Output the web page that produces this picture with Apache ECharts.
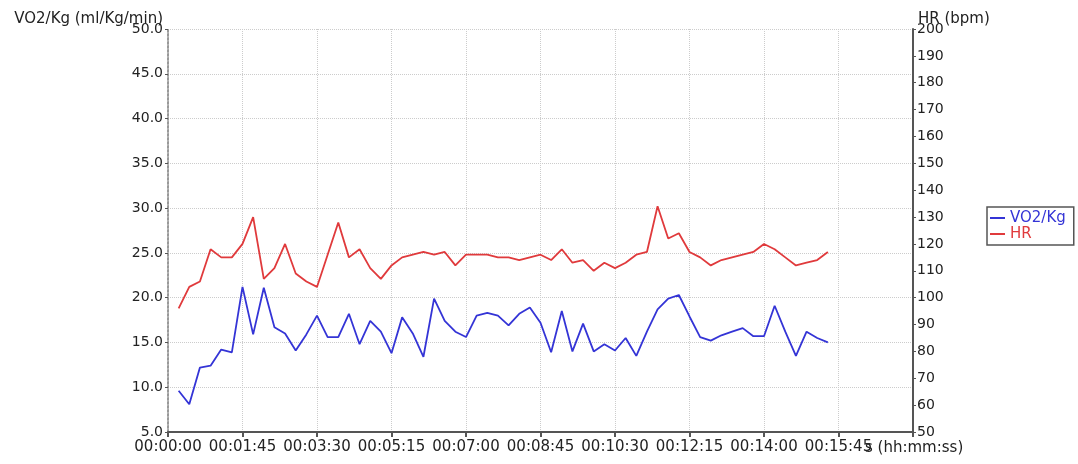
<!DOCTYPE html>
<html>
<head>
<meta charset="utf-8">
<script src="https://cdn.jsdelivr.net/npm/echarts@6/dist/echarts.min.js"></script>
<style>
  html, body { margin: 0; padding: 0; background: #fff; }
  #chart { width: 1078px; height: 464px; }
</style>
</head>
<body>
<div id="chart"></div>
<script>
// elapsed time of each sample, seconds
var times = [15, 30, 45, 60, 75, 90, 105, 120, 135, 150, 165, 180, 195, 210, 225, 240,
  255, 270, 285, 300, 315, 330, 345, 360, 375, 390, 405, 420, 435, 450, 465, 480,
  495, 510, 525, 540, 555, 570, 585, 600, 615, 630, 645, 660, 675, 690, 705, 720,
  735, 750, 765, 780, 795, 810, 825, 840, 855, 870, 885, 900, 915, 930];

// VO2/Kg (ml/Kg/min)
var vo2 = [9.6, 8.1, 12.2, 12.4, 14.2, 13.9, 21.2, 15.9, 21.1, 16.7, 16.0, 14.1, 15.9, 18.0, 15.6, 15.6,
  18.2, 14.8, 17.4, 16.2, 13.8, 17.8, 16.0, 13.4, 19.9, 17.4, 16.2, 15.6, 18.0, 18.3, 18.0, 16.9,
  18.2, 18.9, 17.2, 13.9, 18.5, 14.0, 17.1, 14.0, 14.8, 14.1, 15.5, 13.5, 16.2, 18.7, 19.9, 20.3,
  17.9, 15.6, 15.2, 15.8, 16.2, 16.6, 15.7, 15.7, 19.1, 16.2, 13.5, 16.2, 15.5, 15.0];

// HR (bpm)
var hr = [96, 104, 106, 118, 115, 115, 120, 130, 107, 111, 120, 109, 106, 104, 116, 128,
  115, 118, 111, 107, 112, 115, 116, 117, 116, 117, 112, 116, 116, 116, 115, 115,
  114, 115, 116, 114, 118, 113, 114, 110, 113, 111, 113, 116, 117, 134, 122, 124,
  117, 115, 112, 114, 115, 116, 117, 120, 118, 115, 112, 113, 114, 117];

var xTickLabels = ['00:00:00', '00:01:45', '00:03:30', '00:05:15', '00:07:00', '00:08:45',
  '00:10:30', '00:12:15', '00:14:00', '00:15:45', ''];

var seriesNames = ['VO2/Kg', 'HR'];
var colors = ['#3434d6', '#e03a3c'];

var myChart = echarts.init(document.getElementById('chart'));

var option = {
  animation: false,
  textStyle: { fontFamily: 'DejaVu Sans', color: '#222' },
  color: colors,
  grid: { left: 168, right: 165, top: 29, bottom: 32 },
  legend: {
    orient: 'vertical',
    left: 987,
    top: 207,
    padding: [3, 8, 3, 3],
    itemGap: 0,
    itemWidth: 15,
    itemHeight: 2,
    icon: 'rect',
    borderColor: '#555',
    borderWidth: 1.5,
    borderRadius: 0,
    textStyle: { fontSize: 15, lineHeight: 16, padding: [0, 0, 0, 0] },
    data: [
      { name: seriesNames[0], textStyle: { color: colors[0] } },
      { name: seriesNames[1], textStyle: { color: colors[1] } }
    ]
  },
  xAxis: {
    type: 'value',
    min: 0,
    max: 1050,
    interval: 105,
    name: 's (hh:mm:ss)',
    nameLocation: 'end',
    nameGap: -48,
    nameMoveOverlap: false,
    nameTextStyle: { fontSize: 15, color: '#222', align: 'left', verticalAlign: 'top', padding: [9, 0, 0, 0] },
    axisLine: { lineStyle: { color: '#555', width: 2 } },
    axisTick: { length: 5, lineStyle: { color: '#555', width: 2 } },
    axisLabel: {
      fontSize: 15,
      color: '#222',
      margin: 8,
      formatter: function (v) { return xTickLabels[Math.round(v / 105)]; }
    },
    splitLine: { show: true, lineStyle: { color: '#ccc', type: 'dotted' } }
  },
  yAxis: [{
    type: 'value',
    min: 5,
    max: 50,
    interval: 5,
    name: 'VO2/Kg (ml/Kg/min)',
    nameLocation: 'end',
    nameGap: 10,
    nameMoveOverlap: false,
    nameTextStyle: { fontSize: 15, color: '#222', align: 'right', verticalAlign: 'middle', padding: [0, 5, 0, 0] },
    axisLine: { show: true, lineStyle: { color: '#999', width: 2, type: 'dotted' } },
    axisTick: { show: true, length: 3, lineStyle: { color: '#555' } },
    axisLabel: { fontSize: 14, color: '#222', margin: 5, formatter: function (v) { return v.toFixed(1); } },
    splitLine: { show: true, lineStyle: { color: '#ccc', type: 'dotted' } }
  }, {
    type: 'value',
    position: 'right',
    min: 50,
    max: 200,
    interval: 10,
    name: 'HR (bpm)',
    nameLocation: 'end',
    nameGap: 10,
    nameMoveOverlap: false,
    nameTextStyle: { fontSize: 15, color: '#222', align: 'left', verticalAlign: 'middle', padding: [0, 0, 0, 5] },
    axisLine: { show: true, lineStyle: { color: '#555', width: 2 } },
    axisTick: { show: true, length: 3, lineStyle: { color: '#555' } },
    axisLabel: { fontSize: 14, color: '#222', margin: 4 },
    splitLine: { show: false }
  }],
  series: [{
    name: seriesNames[0],
    type: 'line',
    yAxisIndex: 0,
    showSymbol: false,
    lineStyle: { width: 1.8 },
    data: times.map(function (t, i) { return [t, vo2[i]]; })
  }, {
    name: seriesNames[1],
    type: 'line',
    yAxisIndex: 1,
    showSymbol: false,
    lineStyle: { width: 1.8 },
    data: times.map(function (t, i) { return [t, hr[i]]; })
  }]
};

myChart.setOption(option);
</script>
</body>
</html>
